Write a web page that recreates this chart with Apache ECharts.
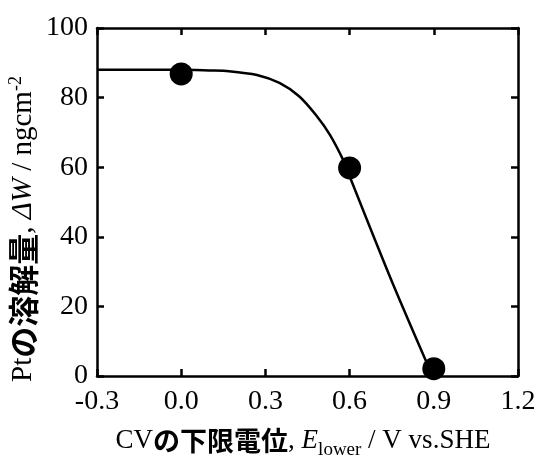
<!DOCTYPE html>
<html>
<head>
<meta charset="utf-8">
<script src="https://cdn.jsdelivr.net/npm/echarts@6/dist/echarts.min.js"></script>
<style>html,body{margin:0;padding:0;background:#fff}#c{width:539px;height:458px}</style>
</head>
<body>
<div id="c"></div>
<script>
// Measured points
const pointX = [0.0, 0.6, 0.9];
const pointY = [86.8, 59.8, 2.1];
// Fitted curve
const curveX = [-0.3, -0.2, -0.1, 0.0, 0.1, 0.17, 0.27, 0.35, 0.42, 0.48, 0.53, 0.58, 0.6, 0.75, 0.89];
const curveY = [88.0, 88.0, 88.0, 88.0, 87.8, 87.6, 86.5, 84.2, 80.4, 75.0, 69.3, 61.6, 57.4, 27.3, 1.0];
// Axis ranges / ticks
const xMin = -0.3, xMax = 1.2, xStep = 0.3;
const yMin = 0, yMax = 100, yStep = 20;

const serif = "'Liberation Serif', 'Times New Roman', serif";
const cjk = "'Noto Sans CJK JP', sans-serif";

const chart = echarts.init(document.getElementById('c'), null, {renderer: 'canvas'});

const lineStyleAxis = {color: '#000', width: 2.5};
const tickStyle = {show: true, inside: true, length: 7, lineStyle: {color: '#000', width: 2.5}};

const xBase = {type: 'value', min: xMin, max: xMax, interval: xStep, splitLine: {show: false},
  axisLine: {show: true, onZero: false, lineStyle: lineStyleAxis}, axisTick: tickStyle};
const yBase = {type: 'value', min: yMin, max: yMax, interval: yStep, splitLine: {show: false},
  axisLine: {show: true, onZero: false, lineStyle: lineStyleAxis}, axisTick: tickStyle};

function mkRich(s, c) {
  return {
    s: {fontFamily: serif, fontSize: s, color: '#000', verticalAlign: 'middle', lineHeight: 32},
    c: {fontFamily: cjk, fontSize: c, fontWeight: 'bold', color: '#000', verticalAlign: 'middle', lineHeight: 32},
    i: {fontFamily: serif, fontSize: s, fontStyle: 'italic', color: '#000', verticalAlign: 'middle', lineHeight: 32},
    sub: {fontFamily: serif, fontSize: 19, color: '#000', verticalAlign: 'bottom', lineHeight: 19, padding: [0, 0, -3, 0]},
    sup: {fontFamily: serif, fontSize: 18, color: '#000', verticalAlign: 'top', lineHeight: 18}
  };
}

chart.setOption({
  animation: false,
  backgroundColor: '#fff',
  grid: {left: 97, right: 21, top: 28, bottom: 82, containLabel: false},
  xAxis: [
    Object.assign({}, xBase, {position: 'bottom',
      axisLabel: {show: true, margin: 12, color: '#000', fontFamily: serif, fontSize: 28,
        formatter: v => v.toFixed(1)}}),
    Object.assign({}, xBase, {position: 'top', axisLabel: {show: false}})
  ],
  yAxis: [
    Object.assign({}, yBase, {position: 'left',
      axisLabel: {show: true, margin: 9, color: '#000', fontFamily: serif, fontSize: 28}}),
    Object.assign({}, yBase, {position: 'right', axisLabel: {show: false}})
  ],
  series: [
    {type: 'line', xAxisIndex: 0, yAxisIndex: 0, data: curveX.map((x, i) => [x, curveY[i]]),
      smooth: 0.3, showSymbol: false, lineStyle: {color: '#000', width: 2.5}, z: 2},
    {type: 'scatter', xAxisIndex: 0, yAxisIndex: 0, data: pointX.map((x, i) => [x, pointY[i]]),
      symbol: 'circle', symbolSize: 23, itemStyle: {color: '#000', opacity: 1}, z: 3}
  ],
  graphic: [
    {type: 'text', x: 303, y: 441, style: {
      text: '{s|CV}{c|の下限電位}{s|, }{i|E}{sub|lower}{s| / V vs.SHE}',
      rich: mkRich(27, 27), textAlign: 'center', textVerticalAlign: 'middle'}},
    {type: 'text', x: 23, y: 229, rotation: Math.PI / 2, style: {
      text: '{s|Pt}{c|の溶解量}{s|, }{i|ΔW}{s| / ngcm}{sup|-2}',
      rich: mkRich(29, 31), textAlign: 'center', textVerticalAlign: 'middle'}}
  ]
});
</script>
</body>
</html>
